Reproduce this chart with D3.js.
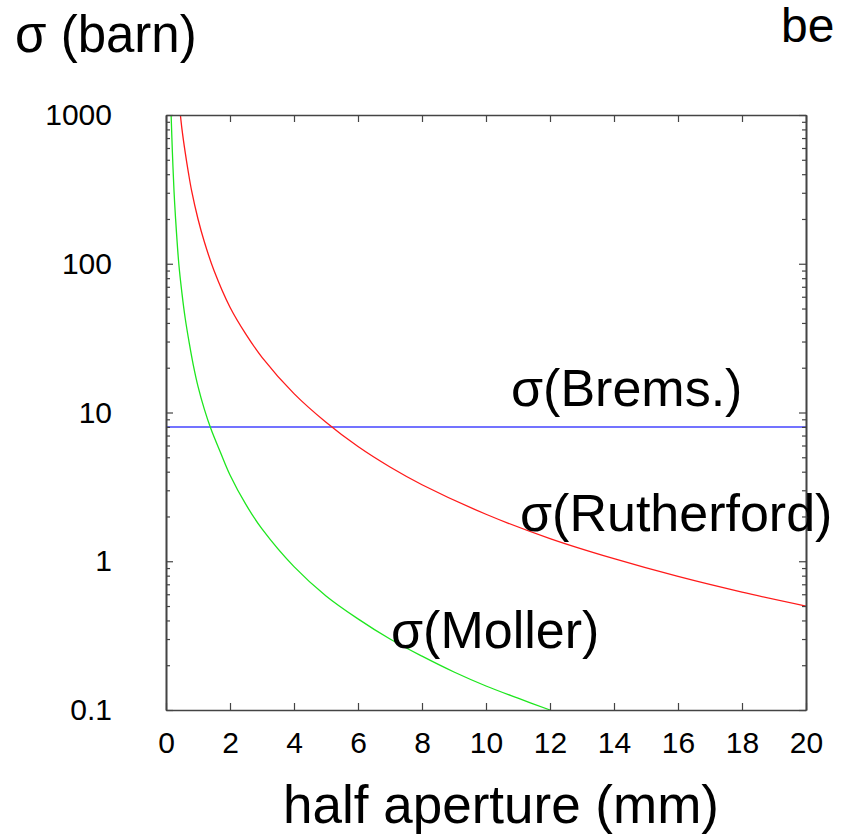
<!DOCTYPE html>
<html>
<head>
<meta charset="utf-8">
<script src="https://cdn.jsdelivr.net/npm/d3@7"></script>
<style>
  body { margin: 0; background: #fff; }
  text { font-family: "Liberation Sans", Arial, sans-serif; fill: #000; }
</style>
</head>
<body>
<svg id="chart" width="841" height="837"></svg>
<script>
// values
let apertureRuth = [0.45, 0.5, 0.6, 0.7, 0.8, 1, 1.2, 1.5, 2, 2.5, 3, 4, 5, 6, 7, 8, 10, 12, 14, 16, 18, 20]
let sigmaRuth = [1000, 800, 560, 410, 310, 200, 140, 90, 51, 33.5, 23.5, 13.4, 8.6, 5.9, 4.3, 3.27, 2.07, 1.42, 1.04, 0.79, 0.62, 0.5]

let apertureMoller = [0.16, 0.2, 0.25, 0.3, 0.4, 0.5, 0.6, 0.73, 0.85, 1, 1.2, 1.4, 1.7, 2, 2.5, 3, 4, 5, 6, 7, 8, 9, 10, 11, 12]
let sigmaMoller = [1000, 560, 310, 200, 100, 63, 43, 29, 21, 15, 10.5, 7.8, 5.4, 3.8, 2.4, 1.65, 0.92, 0.585, 0.41, 0.3, 0.23, 0.18, 0.145, 0.12, 0.1]

let apertureBrems = [0, 20]
let sigmaBrems = [8, 8]

let xTicks = [0, 2, 4, 6, 8, 10, 12, 14, 16, 18, 20]
let yTicks = [0.1, 1, 10, 100, 1000]

let svg = d3.select('svg#chart')
svg.append('rect').attr('width', 841).attr('height', 837).attr('fill', '#fff')

let plotLeft = 166, plotRight = 806, plotTop = 115, plotBottom = 710

let x = d3.scaleLinear().domain([0, 20]).range([plotLeft, plotRight])
let y = d3.scaleLog().domain([0.1, 1000]).range([plotBottom, plotTop])

// minor ticks for the log axis
let minor = []
for (let t of yTicks.slice(0, -1)) {
    for (let k = 2; k <= 9; k++) minor.push(t * k)
}

// curves
function drawCurve(xs, ys, color, width) {
    let pts = xs.map((d, i) => [d, ys[i]])
    svg.append('path')
        .datum(pts)
        .attr('fill', 'none')
        .attr('stroke', color)
        .attr('stroke-width', width)
        .attr('d', d3.line().x(d => x(d[0])).y(d => y(d[1])).curve(d3.curveCatmullRom.alpha(0.5)))
}
drawCurve(apertureBrems, sigmaBrems, '#7373ff', 2)
drawCurve(apertureRuth, sigmaRuth, '#ff1a1a', 1.3)
drawCurve(apertureMoller, sigmaMoller, '#1ee61e', 1.3)

// axes, ticks pointing inward on all four sides
let axisColor = '#444'
let gB = svg.append('g').attr('transform', `translate(0,${plotBottom})`)
    .call(d3.axisBottom(x).tickValues(xTicks).tickSizeInner(-7).tickSizeOuter(0).tickFormat(d3.format('d')))
let gT = svg.append('g').attr('transform', `translate(0,${plotTop})`)
    .call(d3.axisTop(x).tickValues(xTicks).tickSizeInner(-7).tickSizeOuter(0).tickFormat(''))
let gL = svg.append('g').attr('transform', `translate(${plotLeft},0)`)
    .call(d3.axisLeft(y).tickValues(yTicks).tickSizeInner(-7).tickSizeOuter(0).tickFormat(d => d < 1 ? '0.1' : d3.format('d')(d)))
let gR = svg.append('g').attr('transform', `translate(${plotRight},0)`)
    .call(d3.axisRight(y).tickValues(yTicks).tickSizeInner(-7).tickSizeOuter(0).tickFormat(''))
let gLm = svg.append('g').attr('transform', `translate(${plotLeft},0)`)
    .call(d3.axisLeft(y).tickValues(minor).tickSizeInner(-4).tickSizeOuter(0).tickFormat(''))
let gRm = svg.append('g').attr('transform', `translate(${plotRight},0)`)
    .call(d3.axisRight(y).tickValues(minor).tickSizeInner(-4).tickSizeOuter(0).tickFormat(''))

for (let g of [gB, gT, gL, gR, gLm, gRm]) {
    g.select('.domain').attr('stroke', axisColor).attr('stroke-width', 1.6)
    g.selectAll('.tick line').attr('stroke', axisColor).attr('stroke-width', 1.2)
}
gB.selectAll('.tick text')
    .attr('font-size', 30).attr('font-family', '"Liberation Sans", Arial, sans-serif')
    .attr('fill', '#000').attr('y', 22).attr('dy', '0.71em')
gL.selectAll('.tick text')
    .attr('font-size', 30).attr('font-family', '"Liberation Sans", Arial, sans-serif')
    .attr('fill', '#000').attr('x', -54).attr('dy', '0.32em')

// titles and curve labels
function label(txt, px, py, size, anchor) {
    svg.append('text').attr('x', px).attr('y', py)
        .attr('font-size', size).attr('text-anchor', anchor || 'start')
        .text(txt)
}
label('σ (barn)', 15, 52, 51)
label('be', 781, 42, 48)
label('σ(Brems.)', 511, 406, 52)
label('σ(Rutherford)', 520, 531, 52)
label('σ(Moller)', 391, 648, 52)
label('half aperture (mm)', 501, 823, 53, 'middle')
</script>
</body>
</html>
